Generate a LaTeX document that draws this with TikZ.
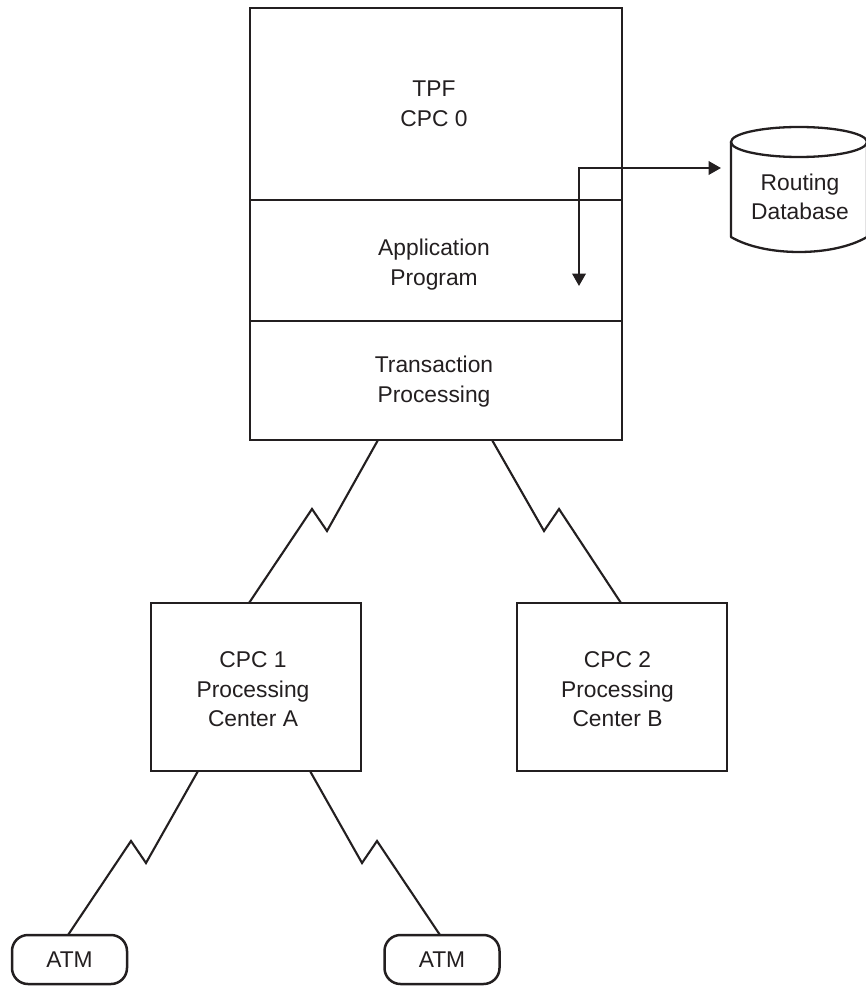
\documentclass[tikz,border=0pt]{standalone}
\usepackage{fontspec}
\setmainfont{Liberation Sans}
\usetikzlibrary{arrows.meta}
\definecolor{ink}{HTML}{231F20}
\tikzset{
  every node/.style={text=ink,font=\fontsize{22.8}{29.5}\selectfont,align=center},
  box/.style={draw=ink,line width=2.5pt,rectangle,outer sep=0pt,inner sep=0pt},
  section/.style={box,minimum width=372pt},
  cpcbox/.style={box,minimum width=210pt,minimum height=168pt},
  atm/.style={box,rounded corners=16pt,minimum width=115pt,minimum height=49pt},
  link/.style={draw=ink,line width=2.1pt,line join=miter},
  flow/.style={draw=ink,line width=2.3pt,{Triangle[length=12.5pt,width=13.5pt]}-{Triangle[length=12.5pt,width=13.5pt]}},
  dbline/.style={draw=ink,line width=2.3pt,line join=round}
}
\begin{document}
\begin{tikzpicture}[x=1pt,y=-1pt]
\useasboundingbox[fill=white] (0,0) rectangle (866,987);
% central stack
\node[section,minimum height=192pt,label={[xshift=-2pt,yshift=0pt]center:{TPF\\CPC 0}}] (tpf) at (436,104) {};
\node[section,minimum height=121pt,label={[xshift=-2pt,yshift=-4pt]center:{Application\\Program}}] (app) at (436,260.5) {};
\node[section,minimum height=119pt,label={[xshift=-2pt,yshift=-1pt]center:{Transaction\\Processing}}] (tp) at (436,380.5) {};
% processing centres
\node[cpcbox,label={[xshift=-3pt,yshift=-2.5pt]center:{CPC 1\\Processing\\Center A}}] (cpca) at (256,687) {};
\node[cpcbox,label={[xshift=-4.5pt,yshift=-2.5pt]center:{CPC 2\\Processing\\Center B}}] (cpcb) at (622,687) {};
% terminals
\node[atm] (atma) at (69.5,959.5) {ATM};
\node[atm] (atmb) at (442,959.5) {ATM};
% routing database
\draw[dbline] (731,142) -- (731,237) .. controls (765,257) and (833,257) .. (867,237) -- (867,142);
\draw[dbline] (799,142) ellipse [x radius=68, y radius=15];
\node[inner sep=0pt] (db) at (800,197) {Routing\\Database};
% data flow
\coordinate (flowdown) at (579,286);
\coordinate (dbport) at (721,168);
\draw[flow] (flowdown) |- (dbport);
% zig-zag links
\coordinate (z1) at (327,531); \coordinate (z2) at (312,509);
\coordinate (z3) at (544,531); \coordinate (z4) at (559,509);
\coordinate (z5) at (146,863); \coordinate (z6) at (131,841);
\coordinate (z7) at (362,863); \coordinate (z8) at (377,841);
\draw[link] ([xshift=128pt]tp.south west) -- (z1) -- (z2) -- ([xshift=98pt]cpca.north west);
\draw[link] ([xshift=242pt]tp.south west) -- (z3) -- (z4) -- ([xshift=104pt]cpcb.north west);
\draw[link] ([xshift=47pt]cpca.south west) -- (z5) -- (z6) -- ([xshift=-1.5pt]atma.north);
\draw[link] ([xshift=159pt]cpca.south west) -- (z7) -- (z8) -- ([xshift=-2pt]atmb.north);
\end{tikzpicture}
\end{document}
